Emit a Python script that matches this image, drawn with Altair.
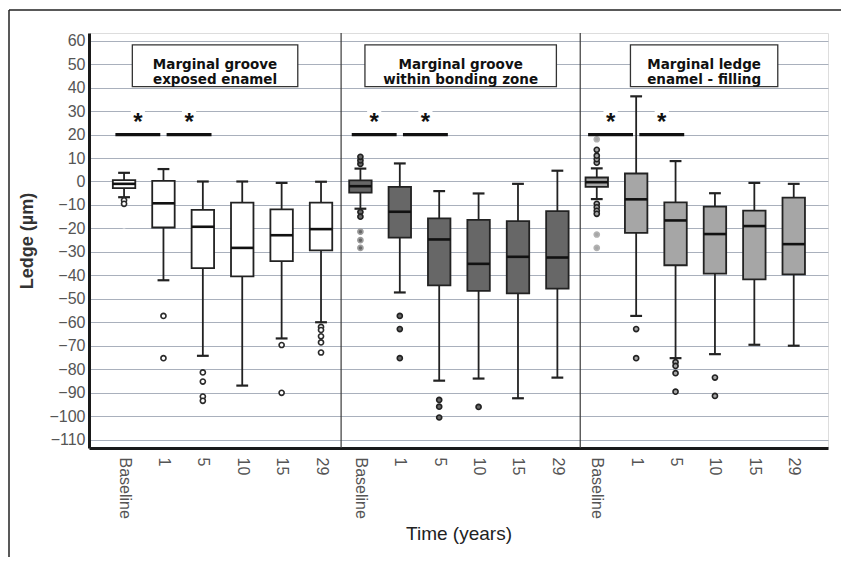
import altair as alt
import pandas as pd

FONT = "Liberation Sans"

panels = ["Marginal groove\nexposed enamel",
          "Marginal groove\nwithin bonding zone",
          "Marginal ledge\nenamel - filling"]
times = ["Baseline", "1", "5", "10", "15", "29"]

# box statistics per panel (order of times)
upper_whisker = [[3.7, 5.3, 0, 0, -0.6, -0.1],
                 [5.5, 7.7, -4.1, -5.1, -1, 4.6],
                 [5.6, 36.3, 8.7, -5, -0.6, -1]]
q3 = [[0.6, 0.3, -12.1, -9, -11.9, -9],
      [0.5, -2.3, -15.7, -16.4, -16.9, -12.6],
      [1.7, 3.4, -8.9, -10.7, -12.4, -6.9]]
median = [[-1, -9.3, -19.3, -28.3, -22.9, -20.3],
          [-2, -12.9, -24.7, -35.1, -32.1, -32.4],
          [-0.3, -7.6, -16.6, -22.4, -19, -26.7]]
q1 = [[-2.8, -19.6, -36.9, -40.4, -33.9, -29.4],
      [-4.7, -23.9, -44.3, -46.6, -47.7, -45.7],
      [-2.3, -21.9, -35.7, -39.3, -41.7, -39.6]]
lower_whisker = [[-6.7, -42.1, -74.3, -87, -66.9, -60],
                 [-11.6, -47.3, -84.9, -84, -92.4, -83.6],
                 [-7.5, -57.3, -75.3, -73.6, -69.6, -70]]

# outliers: panel -> time -> values
outliers = [
    {"Baseline": [-8, -9.5], "1": [-57.3, -75.3], "5": [-81.4, -85.3, -91.7, -93.5],
     "15": [-69.7, -90.1], "29": [-62, -63.3, -66, -68.6, -72.9]},
    {"Baseline": [7.5, 9, 10.5, -13, -15], "1": [-57.3, -62.9, -75.3],
     "5": [-93.1, -96, -100.6], "10": [-96.1]},
    {"Baseline": [8, 9.5, 11, 13.5, -9.5, -11, -12.5, -13.8], "1": [-62.9, -75.3],
     "5": [-77, -78.6, -81.7, -89.6], "10": [-83.6, -91.4]},
]
# far (faint) outliers
far_outliers = [
    {"Baseline": [-13, -21.5, -25]},
    {"Baseline": [-21.4, -25, -28.3]},
    {"Baseline": [18, -22.6, -28.3]},
]
# significant comparisons (same in every panel)
sig_pairs = [("Baseline", "1"), ("1", "5")]
sig_level = 20
panel_edges = [-0.89, 5.51, 11.58, 17.87]
title_halfwidth = [2.1, 2.43, 1.87]

n_t = len(times)
rows = []
for p, panel in enumerate(panels):
    for t, tm in enumerate(times):
        rows.append(dict(panel=panel, time=tm, idx=p * n_t + t,
                         lower=lower_whisker[p][t], q1=q1[p][t], median=median[p][t],
                         q3=q3[p][t], upper=upper_whisker[p][t]))
box_df = pd.DataFrame(rows)

orows = []
for p in range(len(panels)):
    for tm, vals in outliers[p].items():
        for v in vals:
            orows.append(dict(idx=p * n_t + times.index(tm), value=v, style=f"p{p}"))
    for tm, vals in far_outliers[p].items():
        for v in vals:
            orows.append(dict(idx=p * n_t + times.index(tm), value=v, style=f"p{p}f"))
out_df = pd.DataFrame(orows)

srows = []
for p in range(len(panels)):
    for k, (a, b) in enumerate(sig_pairs):
        xa = p * n_t + times.index(a) - 0.22 + 0.3 * k
        xb = p * n_t + times.index(b) - 0.08 + 0.3 * k
        srows.append(dict(x0=xa, x1=xb, xm=(xa + xb) / 2, y=sig_level))
sig_df = pd.DataFrame(srows)

trows = []
for p, panel in enumerate(panels):
    c = (panel_edges[p] + panel_edges[p + 1]) / 2
    trows.append(dict(panel=panel, xc=c, x0=c - title_halfwidth[p], x1=c + title_halfwidth[p]))
title_df = pd.DataFrame(trows)

sep_df = pd.DataFrame({"x": panel_edges[1:-1]})

label_expr = "[" + ",".join(f"'{t}'" for t in times) + f"][datum.value % {n_t}]"

x_scale = alt.Scale(domain=[panel_edges[0], panel_edges[-1]], nice=False, zero=False)
y_scale = alt.Scale(domain=[-113.6, 63.3], nice=False, zero=False)

x_axis = alt.Axis(title="Time (years)", values=list(range(len(panels) * n_t)),
                  labelExpr=label_expr, labelAngle=90, labelAlign="left",
                  labelBaseline="middle", labelPadding=9, labelFontSize=16,
                  labelColor="#555555", labelFont=FONT, labelFlush=False,
                  labelOverlap=False, ticks=False, grid=False, domainColor="#1a1a1a",
                  domainWidth=3, titleFontSize=19, titleFontWeight="normal",
                  titleColor="#222222", titlePadding=6, titleFont=FONT)
y_axis = alt.Axis(title="Ledge (µm)", values=list(range(-110, 61, 10)),
                  labelFontSize=16, labelColor="#555555", labelPadding=4,
                  labelFont=FONT, labelOverlap=False, labelFlush=False,
                  ticks=False, grid=True, gridColor="#a9b0bc", gridWidth=1,
                  domainColor="#1a1a1a", domainWidth=3, titleFontSize=18,
                  titleFontWeight="bold", titleColor="#333333", titlePadding=12,
                  titleFont=FONT)


def X(f):
    return alt.X(f, scale=x_scale, axis=x_axis)


def Y(f):
    return alt.Y(f, scale=y_scale, axis=y_axis)


box_w = 0.285
cap_w = 0.15
ink = "#222222"

base = alt.Chart(box_df)

sep = alt.Chart(sep_df).mark_rule(color="#3a3a3a", strokeWidth=1.2).encode(x=X("x:Q"))

whisk = base.mark_rule(color=ink, strokeWidth=1.8).encode(
    x=X("idx:Q"), y=Y("lower:Q"), y2="upper:Q")

caps = base.transform_fold(["lower", "upper"], as_=["which", "v"]).transform_calculate(
    a=f"datum.idx - {cap_w}", b=f"datum.idx + {cap_w}"
).mark_rule(color=ink, strokeWidth=2.2).encode(x=X("a:Q"), x2="b:Q", y=Y("v:Q"))

boxes = base.transform_calculate(
    a=f"datum.idx - {box_w}", b=f"datum.idx + {box_w}"
).mark_rect(stroke=ink, strokeWidth=1.8).encode(
    x=X("a:Q"), x2="b:Q", y=Y("q1:Q"), y2="q3:Q",
    fill=alt.Fill("panel:N", scale=alt.Scale(domain=panels,
                  range=["#ffffff", "#676767", "#a6a6a6"]), legend=None))

meds = base.transform_calculate(
    a=f"datum.idx - {box_w}", b=f"datum.idx + {box_w}"
).mark_rule(color="#111111", strokeWidth=2.6).encode(x=X("a:Q"), x2="b:Q", y=Y("median:Q"))

styles = ["p0", "p1", "p2", "p0f", "p1f", "p2f"]
outl = alt.Chart(out_df).mark_point(shape="circle", filled=False, size=26,
                                    strokeWidth=1.6, opacity=1).encode(
    x=X("idx:Q"), y=Y("value:Q"),
    fill=alt.Fill("style:N", scale=alt.Scale(domain=styles,
                  range=["#ffffff", "#4a4a4a", "#8e8e8e", "#ffffff", "#9c9c9c", "#b2b2b2"]),
                  legend=None),
    stroke=alt.Stroke("style:N", scale=alt.Scale(domain=styles,
                      range=["#2a2a2a", "#222222", "#222222", "#ffffff", "#9c9c9c", "#b2b2b2"]),
                      legend=None))

sig = alt.Chart(sig_df).mark_rule(color="#111111", strokeWidth=3.2).encode(
    x=X("x0:Q"), x2="x1:Q", y=Y("y:Q"))

star_bg = alt.Chart(sig_df).transform_calculate(
    a="datum.xm - 0.18", b="datum.xm + 0.18", c="datum.y + 2.9", d="datum.y + 13.1"
).mark_rect(fill="#ffffff").encode(x=X("a:Q"), x2="b:Q", y=Y("c:Q"), y2="d:Q")

stars = alt.Chart(sig_df).transform_calculate(ys="datum.y + 7.6").mark_text(
    text="*", fontSize=24, fontWeight="bold", color="#111111", baseline="middle",
    dy=6, font=FONT).encode(x=X("xm:Q"), y=Y("ys:Q"))

tbox = alt.Chart(title_df).transform_calculate(c="40.4", d="58.2").mark_rect(
    fill="#ffffff", stroke="#333333", strokeWidth=1.3).encode(
    x=X("x0:Q"), x2="x1:Q", y=Y("c:Q"), y2="d:Q")

ttext = alt.Chart(title_df).transform_calculate(yc="49.6").mark_text(
    lineBreak="\n", fontWeight="bold", fontSize=13.5, lineHeight=15, color="#111111",
    baseline="middle", font="DejaVu Sans").encode(x=X("xc:Q"), y=Y("yc:Q"), text="panel:N")

one = pd.DataFrame({"a": [0]})
frame_left = alt.Chart(one).mark_rule(color="#222222", strokeWidth=1.5).encode(
    x=alt.value(-80), y=alt.value(-23), y2=alt.value(524))
frame_top = alt.Chart(one).mark_rule(color="#222222", strokeWidth=1.5).encode(
    x=alt.value(-80), x2=alt.value(752), y=alt.value(-23))

chart = alt.layer(
    sep, whisk, caps, boxes, meds, outl, sig, star_bg, stars, tbox, ttext,
    frame_left, frame_top
).properties(
    width=739, height=415,
    autosize=alt.AutoSizeParams(type="none"),
    padding={"left": 81, "top": 25, "right": 13, "bottom": 109},
).configure_view(
    fill="#eaf1fb", stroke="#222222", strokeWidth=2
).configure(font=FONT)

chart.save("out.html", embed_options={"renderer": "svg", "actions": False})
